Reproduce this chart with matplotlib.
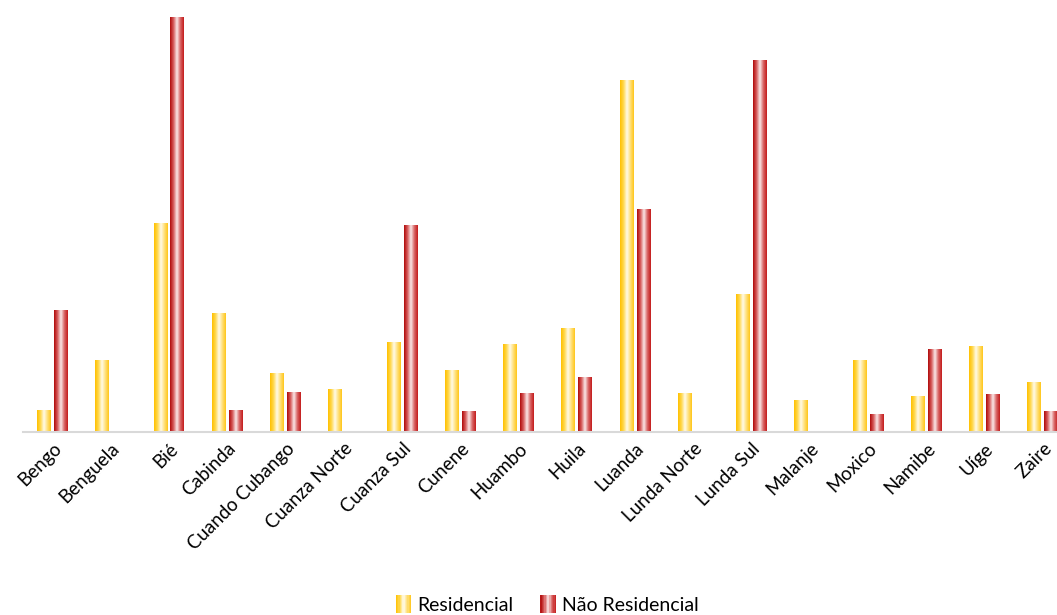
import numpy as np
import matplotlib
matplotlib.use("Agg")
import matplotlib.pyplot as plt
from matplotlib.colors import LinearSegmentedColormap
from matplotlib.legend_handler import HandlerPatch
from matplotlib.patches import Rectangle

plt.rcParams['font.family'] = ['Lato', 'DejaVu Sans']

provincias = ["Bengo", "Benguela", "Bié", "Cabinda", "Cuando Cubango", "Cuanza Norte",
              "Cuanza Sul", "Cunene", "Huambo", "Huila", "Luanda", "Lunda Norte",
              "Lunda Sul", "Malanje", "Moxico", "Namibe", "Uíge", "Zaire"]
residencial = [22, 72, 209, 119, 59, 43, 90, 62, 88, 104, 352, 39, 138, 32, 72, 36, 86, 50]
nao_residencial = [122, 0, 415, 22, 40, 0, 207, 21, 39, 55, 223, 0, 372, 0, 18, 83, 38, 21]

# degradês horizontais (efeito cilindro)
cmap_res = LinearSegmentedColormap.from_list(
    "res", ["#FFC000", "#FFD84D", "#FFFBEA", "#FFE07A", "#FFC61A"])
cmap_nres = LinearSegmentedColormap.from_list(
    "nres", ["#B00A0A", "#D65C5C", "#FBEAEA", "#D86464", "#C41C1C"])
grad = np.linspace(0, 1, 64).reshape(1, -1)


class HandlerGradiente(HandlerPatch):
    def __init__(self, cmap, **kw):
        super().__init__(**kw)
        self.cmap = cmap

    def create_artists(self, legend, orig_handle, xdescent, ydescent,
                       width, height, fontsize, trans):
        n = 12
        w = height * 1.0
        x0 = -xdescent + width - w
        artists = []
        for i in range(n):
            r = Rectangle((x0 + i * w / n, -ydescent - 1), w / n + 0.2, height + 2,
                          facecolor=self.cmap((i + 0.5) / n), edgecolor='none',
                          transform=trans)
            artists.append(r)
        return artists


fig = plt.figure(figsize=(10.57, 6.15), dpi=100)
ax = fig.add_axes([23.4 / 1057, 1 - 431.5 / 615, (1072 - 23.4) / 1057, (431.5 - 15) / 615])

x = np.arange(len(provincias))
largura = 0.24
desloc = 0.145
b1 = ax.bar(x - desloc, residencial, largura, color='none', label="Residencial")
b2 = ax.bar(x + desloc, nao_residencial, largura, color='none', label="Não Residencial")

for barras, cmap in ((b1, cmap_res), (b2, cmap_nres)):
    for p in barras:
        h = p.get_height()
        if h <= 0:
            continue
        ax.imshow(grad, cmap=cmap, aspect='auto', interpolation='bilinear',
                  extent=[p.get_x(), p.get_x() + p.get_width(), 0, h], zorder=2)

ax.set_xlim(-0.5, len(provincias) - 0.5)
ax.set_ylim(0, 416.5)

for s in ['top', 'right', 'left']:
    ax.spines[s].set_visible(False)
ax.spines['bottom'].set_color('#D9D9D9')
ax.spines['bottom'].set_linewidth(1.5)
ax.set_yticks([])
ax.set_xticks(x)
ax.set_xticklabels(provincias, rotation=45, ha='right', rotation_mode='anchor',
                   fontsize=13.5)
ax.tick_params(axis='x', length=0, pad=6)

ax.legend(handles=[b1, b2], labels=["Residencial", "Não Residencial"],
          handler_map={b1: HandlerGradiente(cmap_res), b2: HandlerGradiente(cmap_nres)},
          loc='center', bbox_to_anchor=(548 / 1057, 1 - 605 / 615),
          bbox_transform=fig.transFigure, ncol=2, frameon=False, fontsize=14,
          handlelength=0.7, handleheight=0.85, handletextpad=0.3, columnspacing=1.5,
          borderpad=0)

fig.savefig("out.png", dpi=100)
